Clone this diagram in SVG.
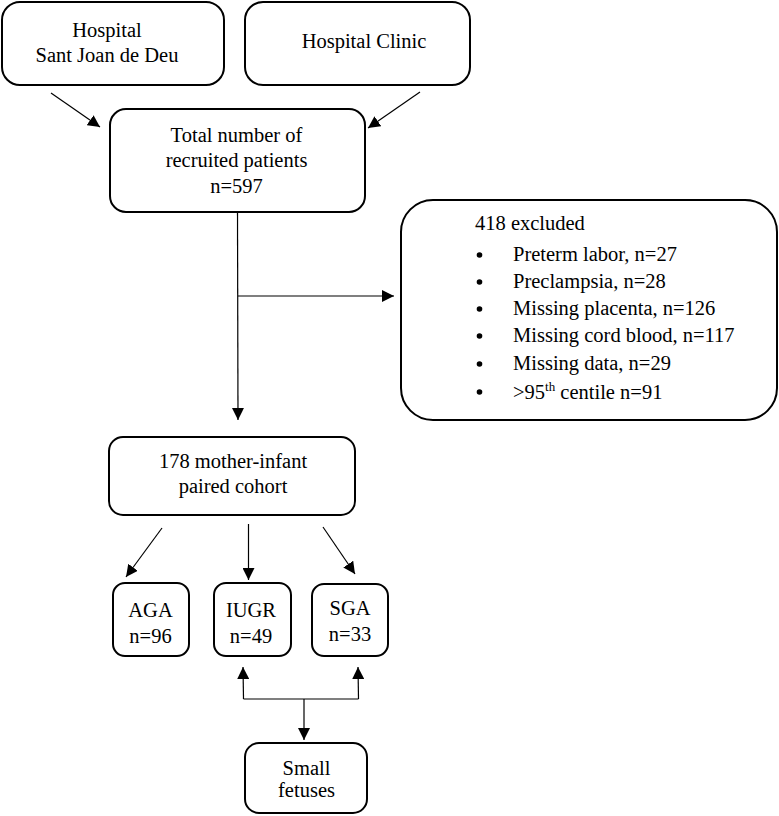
<svg xmlns="http://www.w3.org/2000/svg" width="779" height="816" viewBox="0 0 779 816">
<style>
.box{fill:#fff;stroke:#000;stroke-width:2}
.t{font-family:"Liberation Serif","Times New Roman",serif;font-size:20.5px;fill:#000}
.c{text-anchor:middle}
.ln{stroke:#000;stroke-width:1.2;fill:none;marker-end:url(#ah)}
.pl{stroke:#000;stroke-width:1.2;fill:none}
</style>
<defs>
<marker id="ah" markerUnits="userSpaceOnUse" markerWidth="13" markerHeight="12" refX="12" refY="6" orient="auto">
<path d="M0,0 L12,6 L0,12 z" fill="#000"/>
</marker>
</defs>
<rect width="779" height="816" fill="#fff"/>
<g id="connectors">
<line class="ln" x1="51" y1="93" x2="100" y2="127"/>
<line class="ln" x1="420" y1="92" x2="368" y2="128"/>
<line class="ln" x1="237.5" y1="212" x2="238" y2="420"/>
<line class="ln" x1="238" y1="296" x2="394" y2="296"/>
<line class="ln" x1="162" y1="528" x2="126" y2="577"/>
<line class="ln" x1="248.5" y1="524" x2="248.5" y2="580"/>
<line class="ln" x1="323" y1="527" x2="355" y2="574"/>
<line class="pl" x1="243.5" y1="699" x2="358.5" y2="699"/>
<line class="ln" x1="243.5" y1="699" x2="243" y2="667"/>
<line class="ln" x1="358.5" y1="699" x2="358" y2="667"/>
<line class="ln" x1="304" y1="699" x2="304" y2="740"/>
</g>
<g id="hospital-sjd">
<rect class="box" x="2" y="2" width="222" height="83" rx="18"/>
<text class="t c" x="107" y="37">Hospital</text>
<text class="t c" x="107" y="62">Sant Joan de Deu</text>
</g>
<g id="hospital-clinic">
<rect class="box" x="245" y="2" width="225" height="83" rx="18"/>
<text class="t c" x="364" y="48">Hospital Clinic</text>
</g>
<g id="total">
<rect class="box" x="110" y="109" width="255" height="103" rx="16"/>
<text class="t c" x="236.5" y="142">Total number of</text>
<text class="t c" x="236.5" y="167">recruited patients</text>
<text class="t c" x="236.5" y="193">n=597</text>
</g>
<g id="excluded">
<rect class="box" x="401" y="200" width="376" height="220" rx="32"/>
<text class="t" x="475" y="230">418 excluded</text>
<g fill="#000">
<circle cx="479.5" cy="255" r="2.8"/>
<circle cx="479.5" cy="282" r="2.8"/>
<circle cx="479.5" cy="309" r="2.8"/>
<circle cx="479.5" cy="336" r="2.8"/>
<circle cx="479.5" cy="364" r="2.8"/>
<circle cx="479.5" cy="392" r="2.8"/>
</g>
<text class="t" x="513" y="261">Preterm labor, n=27</text>
<text class="t" x="513" y="288">Preclampsia, n=28</text>
<text class="t" x="513" y="315">Missing placenta, n=126</text>
<text class="t" x="513" y="342">Missing cord blood, n=117</text>
<text class="t" x="513" y="370">Missing data, n=29</text>
<text class="t" x="513" y="399">&gt;95<tspan font-size="13" dy="-8">th</tspan><tspan dy="8"> centile n=91</tspan></text>
</g>
<g id="cohort">
<rect class="box" x="109" y="437" width="246" height="78" rx="14"/>
<text class="t c" x="233" y="468">178 mother-infant</text>
<text class="t c" x="233" y="493">paired cohort</text>
</g>
<g id="aga">
<rect class="box" x="113" y="583" width="76" height="73" rx="12"/>
<text class="t c" x="150.5" y="617">AGA</text>
<text class="t c" x="150.5" y="643">n=96</text>
</g>
<g id="iugr">
<rect class="box" x="214" y="583" width="77" height="73" rx="12"/>
<text class="t c" x="251" y="617">IUGR</text>
<text class="t c" x="251" y="643">n=49</text>
</g>
<g id="sga">
<rect class="box" x="312" y="584" width="76" height="72" rx="12"/>
<text class="t c" x="350" y="615">SGA</text>
<text class="t c" x="350" y="641">n=33</text>
</g>
<g id="small-fetuses">
<rect class="box" x="245" y="743" width="122" height="70" rx="14"/>
<text class="t c" x="306.5" y="775">Small</text>
<text class="t c" x="306.5" y="797">fetuses</text>
</g>
</svg>
